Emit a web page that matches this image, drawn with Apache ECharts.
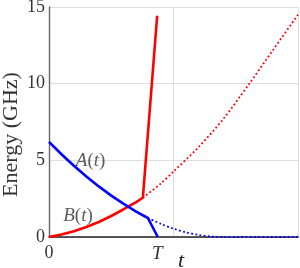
<!DOCTYPE html>
<html>
<head>
<meta charset="utf-8">
<script src="https://cdn.jsdelivr.net/npm/echarts@6/dist/echarts.min.js"></script>
<style>
html,body{margin:0;padding:0;background:#fff;}
#chart{width:300px;height:268px;}
</style>
</head>
<body>
<div id="chart"></div>
<script>
// ---- data ----
const T = 0.87;
const yTicks = [0, 5, 10, 15];
const xTickValues = [0, T];
const xTickLabels = ['0', 'T'];
const yName = 'Energy (GHz)';
const xName = 't';

// B(t), solid red
const bSolidT = [0, 0.1, 0.2, 0.3, 0.4, 0.5, 0.6, 0.7, 0.754, 0.869];
const bSolidV = [0, 0.16, 0.38, 0.65, 0.98, 1.37, 1.81, 2.28, 2.56, 14.43];
// B(t) continuation, dotted red
const bDotT = [0.754, 0.9, 1.0, 1.2, 1.4, 1.6, 1.8, 2.0];
const bDotV = [2.56, 3.5, 4.27, 5.85, 7.7, 9.9, 12.2, 14.5];
// A(t), solid blue
const aSolidT = [0, 0.1, 0.2, 0.3, 0.4, 0.5, 0.6, 0.7, 0.794, 0.874];
const aSolidV = [6.2, 5.4, 4.65, 3.95, 3.3, 2.7, 2.16, 1.66, 1.24, 0];
// A(t) continuation, dotted blue
const aDotT = [0.794, 0.9, 1.0, 1.1, 1.2, 1.3, 1.4, 2.0];
const aDotV = [1.24, 0.85, 0.54, 0.30, 0.14, 0.03, 0, 0];

// curve labels
const labelNames = ['A', 'B'];
const labelT = [0.334, 0.233];
const labelV = [4.94, 1.36];

const zip = (a, b) => a.map((v, i) => [v, b[i]]);
const serif = 'Liberation Serif';
const RED = '#ff0000', BLUE = '#0000ff';

const chart = echarts.init(document.getElementById('chart'), null, {renderer: 'canvas'});
chart.setOption({
  animation: false,
  backgroundColor: '#fff',
  textStyle: {fontFamily: serif},
  grid: {left: 49, right: 2, top: 7, bottom: 31, containLabel: false, outerBoundsMode: 'none'},
  xAxis: {
    type: 'value', min: 0, max: 2, interval: 1,
    name: xName, nameLocation: 'middle', nameGap: 13, nameMoveOverlap: false,
    nameTextStyle: {fontFamily: serif, fontStyle: 'italic', fontSize: 22, color: '#222', padding: [0, 0, 0, 15]},
    axisLine: {show: true, onZero: false, lineStyle: {color: '#222', width: 1.6}},
    axisTick: {show: false},
    splitLine: {show: true, lineStyle: {color: '#dedede', width: 1}},
    axisLabel: {
      customValues: xTickValues,
      margin: 7,
      fontFamily: serif, fontSize: 18, color: '#333',
      formatter: v => {
        const i = xTickValues.indexOf(v);
        const s = i >= 0 ? xTickLabels[i] : '';
        return s === 'T' ? '{i|T}' : s;
      },
      rich: {i: {fontFamily: serif, fontStyle: 'italic', fontSize: 19, color: '#333'}}
    }
  },
  yAxis: {
    type: 'value', min: 0, max: 15, interval: 5,
    name: yName, nameLocation: 'middle', nameGap: 27, nameRotate: 90, nameMoveOverlap: false,
    nameTextStyle: {fontFamily: serif, fontSize: 22, lineHeight: 22, color: '#333', padding: [0, 25, 0, 0]},
    axisLine: {show: true, lineStyle: {color: '#666', width: 1.4}},
    axisTick: {show: false},
    splitLine: {show: true, lineStyle: {color: '#dedede', width: 1}},
    axisLabel: {
      margin: 4, fontFamily: serif, fontSize: 18, color: '#333',
      formatter: v => yTicks.includes(v) ? String(v) : ''
    }
  },
  series: [
    {type: 'line', data: zip(bDotT, bDotV), showSymbol: false, smooth: 0.3,
     lineStyle: {color: RED, width: 1.8, type: [1.8, 2.4]}, z: 2},
    {type: 'line', data: zip(aDotT, aDotV), showSymbol: false, smooth: 0.3,
     lineStyle: {color: BLUE, width: 1.8, type: [1.8, 2.4]}, z: 2},
    {type: 'line', data: zip(bSolidT, bSolidV), showSymbol: false,
     lineStyle: {color: RED, width: 2.6}, z: 3},
    {type: 'line', data: zip(aSolidT, aSolidV), showSymbol: false,
     lineStyle: {color: BLUE, width: 2.6}, z: 3},
    {type: 'scatter', symbolSize: 0, z: 4,
     data: labelNames.map((n, i) => ({value: [labelT[i], labelV[i]], name: n})),
     label: {
       show: true, position: 'inside',
       formatter: p => '{i|' + p.name + '}{n|(}{i|t}{n|)}',
       rich: {
         i: {fontFamily: serif, fontStyle: 'italic', fontSize: 19, color: '#333'},
         n: {fontFamily: serif, fontSize: 19, color: '#333'}
       }
     }}
  ]
});
</script>
</body>
</html>
